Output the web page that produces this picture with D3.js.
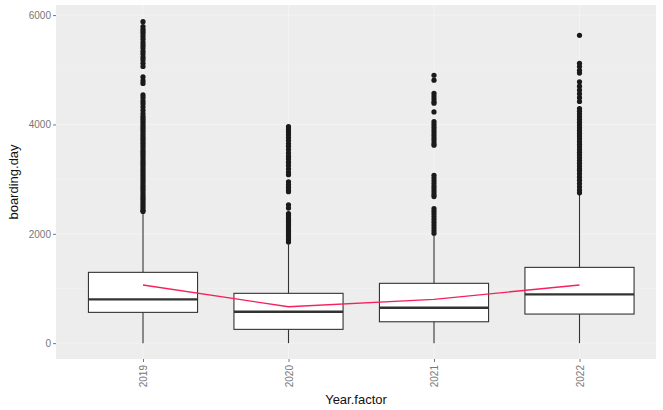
<!DOCTYPE html>
<html><head><meta charset="utf-8">
<script src="https://cdn.jsdelivr.net/npm/d3@7"></script>
<style>body{margin:0;background:#fff}svg{display:block;font-family:"Liberation Sans",Arial,sans-serif}</style>
</head><body>
<svg id="c" width="663" height="410"></svg>
<script>
const years = ["2019","2020","2021","2022"];
const q1 = [563, 252, 391, 532];
const medians = [801, 574, 647, 893];
const q3 = [1295, 911, 1094, 1386];
const whiskerLow = [0, 0, 0, 0];
const whiskerHigh = [2380, 1810, 1990, 2720];
const means = [1063, 666, 801, 1063];
const out2019 = [5880,5790,5740,5700,5660,5610,5560,5500,5450,5400,5340,5290,5230,5180,5120,5060,4870,4800,4750,4540,4490,4430,4380,4320,4260,4200,4150,
  4110,4070,4030,3990,3950,3910,3870,3830,3790,3750,3710,3670,3630,3590,3550,3510,3470,3430,3390,3350,3310,3270,3230,3190,3150,3110,3070,3030,2990,2950,2910,2870,2830,2790,2750,2710,2670,2630,2590,2550,2510,2470,2430,2410];
const out2020 = [3960,3910,3860,3810,3760,3710,3650,3600,3540,3480,3420,3370,3310,3250,3190,3130,3080,2950,2900,2850,2800,2770,2530,2470,
  2370,2330,2290,2250,2210,2170,2130,2090,2050,2010,1970,1930,1890,1850];
const out2021 = [4900,4810,4570,4520,4470,4420,4390,4230,4050,4000,3950,3900,3850,3800,3750,3700,3650,3620,3070,3020,2970,2920,2870,2820,2770,2720,2680,
  2460,2410,2360,2310,2260,2210,2160,2110,2060,2010];
const out2022 = [5630,5120,5060,4990,4940,4780,4700,4630,4560,4490,4420,4290,4240,4190,4140,4090,4040,3990,3940,3890,3840,3790,3740,3690,3640,3590,3540,3490,3440,3390,3340,3290,3240,3190,3160,
  3100,3040,2980,2920,2860,2800,2750];
const outliers = [out2019, out2020, out2021, out2022];
const yTicks = [0, 2000, 4000, 6000];
const yMinor = [1000, 3000, 5000];

const svg = d3.select("#c");
const panel = {left: 56, right: 656, top: 5, bottom: 359};
const x = d3.scalePoint().domain(years).range([143, 579.5]);
const step = x.step();
const bw = step * 0.75;
const y = d3.scaleLinear().domain([-290, 6185]).range([panel.bottom, panel.top]);

svg.append("rect").attr("x", panel.left).attr("y", panel.top)
  .attr("width", panel.right - panel.left).attr("height", panel.bottom - panel.top)
  .attr("fill", "#ededed");

const g = svg.append("g");
g.selectAll(".minor").data(yMinor).join("line")
  .attr("x1", panel.left).attr("x2", panel.right)
  .attr("y1", d => y(d)).attr("y2", d => y(d))
  .attr("stroke", "#f2f2f2").attr("stroke-width", 0.5);
g.selectAll(".major").data(yTicks).join("line")
  .attr("x1", panel.left).attr("x2", panel.right)
  .attr("y1", d => y(d)).attr("y2", d => y(d))
  .attr("stroke", "#f3f3f3").attr("stroke-width", 1);
g.selectAll(".vmajor").data(years).join("line")
  .attr("x1", d => x(d)).attr("x2", d => x(d))
  .attr("y1", panel.top).attr("y2", panel.bottom)
  .attr("stroke", "#f3f3f3").attr("stroke-width", 1);

// axes
const yAxis = d3.axisLeft(y).tickValues(yTicks).tickFormat(d3.format("d")).tickSize(3).tickPadding(2);
const ya = svg.append("g").attr("transform", `translate(${panel.left},0)`).call(yAxis);
ya.select(".domain").remove();
ya.selectAll("line").attr("stroke", "#777");
ya.selectAll("text").attr("fill", "#777").attr("font-size", 10).attr("font-family", "Liberation Sans, Arial, sans-serif");

const xAxis = d3.axisBottom(x).tickSize(3).tickPadding(2);
const xa = svg.append("g").attr("transform", `translate(0,${panel.bottom})`).call(xAxis);
xa.select(".domain").remove();
xa.selectAll("line").attr("stroke", "#777");
xa.selectAll("text").attr("fill", "#777").attr("font-size", 10)
  .attr("font-family", "Liberation Sans, Arial, sans-serif")
  .attr("transform", "rotate(-90)").attr("text-anchor", "end")
  .attr("x", -6).attr("y", 0).attr("dy", "0.35em");

// boxes
const data = years.map((yr, i) => ({yr, q1: q1[i], med: medians[i], q3: q3[i], lo: whiskerLow[i], hi: whiskerHigh[i], out: outliers[i]}));
const bx = svg.append("g");
bx.selectAll(".wu").data(data).join("line")
  .attr("x1", d => x(d.yr)).attr("x2", d => x(d.yr))
  .attr("y1", d => y(d.q3)).attr("y2", d => y(d.hi))
  .attr("stroke", "#333").attr("stroke-width", 1.1);
bx.selectAll(".wl").data(data).join("line")
  .attr("x1", d => x(d.yr)).attr("x2", d => x(d.yr))
  .attr("y1", d => y(d.q1)).attr("y2", d => y(d.lo))
  .attr("stroke", "#333").attr("stroke-width", 1.1);
bx.selectAll(".box").data(data).join("rect")
  .attr("x", d => x(d.yr) - bw / 2).attr("width", bw)
  .attr("y", d => y(d.q3)).attr("height", d => y(d.q1) - y(d.q3))
  .attr("fill", "#fff").attr("stroke", "#333").attr("stroke-width", 1.1);
bx.selectAll(".med").data(data).join("line")
  .attr("x1", d => x(d.yr) - bw / 2).attr("x2", d => x(d.yr) + bw / 2)
  .attr("y1", d => y(d.med)).attr("y2", d => y(d.med))
  .attr("stroke", "#333").attr("stroke-width", 2.3);
data.forEach(d => {
  bx.append("g").selectAll("circle").data(d.out).join("circle")
    .attr("cx", x(d.yr)).attr("cy", v => y(v)).attr("r", 2.6)
    .attr("fill", "#1a1a1a");
});

// mean line
const line = d3.line().x((d, i) => x(years[i])).y(d => y(d));
svg.append("path").datum(means).attr("d", line)
  .attr("fill", "none").attr("stroke", "#f7205e").attr("stroke-width", 1.4);

// axis titles
svg.append("text").attr("x", (panel.left + panel.right) / 2).attr("y", 404)
  .attr("text-anchor", "middle").attr("font-size", 13).attr("fill", "#111")
  .text("Year.factor");
svg.append("text").attr("transform", `translate(18,${(panel.top + panel.bottom) / 2}) rotate(-90)`)
  .attr("text-anchor", "middle").attr("font-size", 13).attr("fill", "#111")
  .text("boarding.day");
</script>
</body></html>
